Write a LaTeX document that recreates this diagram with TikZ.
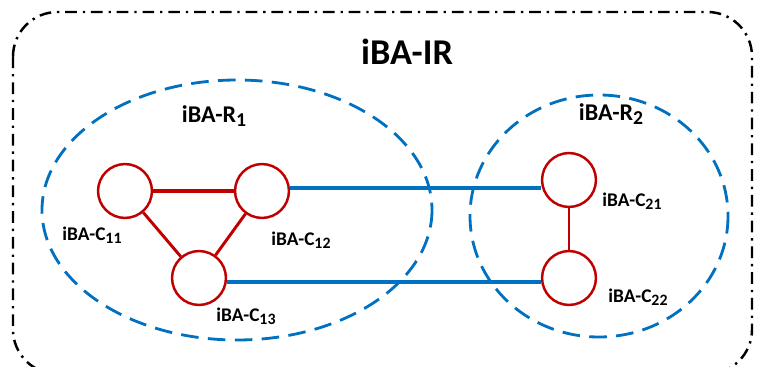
\documentclass[tikz,border=0pt]{standalone}
\usepackage{fontspec}
\setmainfont{Carlito}
\definecolor{ibablue}{RGB}{0,112,192}
\definecolor{ibared}{RGB}{192,0,0}
% lowered, slightly reduced index digits
\newcommand\idx[1]{\raisebox{-0.32ex}{\scalebox{0.82}{#1}}}
\begin{document}
\begin{tikzpicture}[x=0.03cm,y=-0.03cm,
  outerbox/.style={draw=black,line width=2.1pt,rounded corners=38pt,
    dash pattern=on 10pt off 5pt on 2pt off 5pt},
  region/.style={draw=ibablue,line width=2.4pt,dash pattern=on 15pt off 8pt},
  cluster/.style={circle,draw=ibared,line width=2.1pt,minimum size=46pt,inner sep=0pt},
  redlink/.style={draw=ibared,line width=2.5pt},
  bluelink/.style={draw=ibablue,line width=3pt},
  clabel/.style={font=\fontsize{16.5}{18}\selectfont\bfseries,inner sep=0pt},
  rlabel/.style={font=\fontsize{20.5}{22}\selectfont\bfseries,inner sep=0pt}]
\useasboundingbox (0,0) rectangle (766,366);

% outer domain
\draw[outerbox] (13,12) rectangle (752,374);
\node[font=\fontsize{31}{34}\selectfont\bfseries,inner sep=0pt] (title) at (407,52) {iBA-IR};

% regions
\draw[region] (237,210) ellipse [x radius=195,y radius=130];
\draw[region] (599,216) ellipse [x radius=129,y radius=121];
\node[rlabel] (r1) at (214,116) {iBA-R\idx{1}};
\node[rlabel] (r2) at (611,114) {iBA-R\idx{2}};

% clusters
\node[cluster] (c11) at (125,191) {};
\node[cluster] (c12) at (262,191) {};
\node[cluster] (c13) at (199,278) {};
\node[cluster] (c21) at (569,180) {};
\node[cluster] (c22) at (569,278) {};

\node[clabel] (l11) at (92,235) {iBA-C\idx{11}};
\node[clabel] (l12) at (301,240) {iBA-C\idx{12}};
\node[clabel] (l13) at (246,316) {iBA-C\idx{13}};
\node[clabel] (l21) at (632,201) {iBA-C\idx{21}};
\node[clabel] (l22) at (638,297) {iBA-C\idx{22}};

% intra-region links
\draw[redlink,line width=3.8pt] (c11) -- (c12);
\draw[redlink] (c11) -- (c13);
\draw[redlink] (c12) -- (c13);
\draw[redlink] (c21) -- (c22);

% inter-region links
\draw[bluelink] (c12.east |- 0,188) -- (c21.west |- 0,188);
\draw[bluelink] (c13.east |- 0,282) -- (c22.west |- 0,282);
\end{tikzpicture}
\end{document}
